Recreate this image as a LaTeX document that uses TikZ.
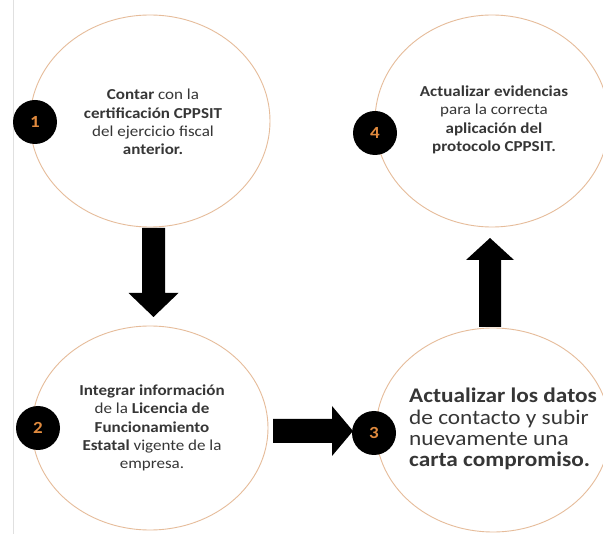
\documentclass[tikz,border=0pt]{standalone}
\usepackage{fontspec}
\setmainfont{Carlito}[FakeStretch=1.12]
\usetikzlibrary{shapes.geometric}
\definecolor{ringcol}{HTML}{E6BC9A}
\definecolor{txtcol}{HTML}{363636}
\definecolor{numcol}{HTML}{E08A3E}
\tikzset{
  ring/.style={ellipse, draw=ringcol, line width=0.9pt, fill=white, inner sep=0pt},
  badge/.style={circle, fill=black, minimum size=44pt, inner sep=0pt,
    text=numcol, font=\fontsize{17}{17}\selectfont\bfseries},
  smalltxt/.style={text=txtcol, align=center, inner sep=0pt,
    font=\fontsize{15.2}{18.4}\selectfont},
  bigtxt/.style={text=txtcol, align=left, inner sep=0pt,
    font=\fontsize{20.8}{21.2}\selectfont},
  blockarrow/.style={fill=black}
}
\begin{document}
\begin{tikzpicture}[x=1pt,y=-1pt]
\useasboundingbox (0,0) rectangle (603,534);
\fill[white] (0,0) rectangle (603,534);
\coordinate (lt) at (13,0);
\coordinate (lb) at (13,534);
\draw[black!12, line width=0.8pt] (lt) -- (lb);

% rings
\node[ring, minimum width=240pt, minimum height=212pt] (c1) at (150,121) {};
\node[ring, minimum width=234pt, minimum height=212pt] (c4) at (492,121) {};
\node[ring, minimum width=236pt, minimum height=204pt] (c2) at (150,428) {};
\node[ring, minimum width=234pt, minimum height=204pt] (c3) at (493,430) {};

% texts
\node[smalltxt] (t1) at (153,122) {\textbf{Contar} con la\\\textbf{certificación CPPSIT}\\del ejercicio fiscal\\\textbf{anterior.}};
\node[smalltxt] (t4) at (494,120) {\textbf{Actualizar evidencias}\\para la correcta\\\textbf{aplicación del}\\\textbf{protocolo CPPSIT.}};
\node[smalltxt] (t2) at (152,428) {\textbf{Integrar información}\\de la \textbf{Licencia de}\\\textbf{Funcionamiento}\\\textbf{Estatal} vigente de la\\empresa.};
\node[bigtxt, anchor=west] (t3) at (409,429) {\textbf{Actualizar los datos}\\de contacto y subir\\nuevamente una\\\textbf{carta compromiso.}};

% arrows
\coordinate (d1) at (153.5,228);
\coordinate (d2) at (153.5,317);
\fill[blockarrow] (d1) ++(-11.5,0) -- ++(23,0) -- ++(0,65) -- ++(13.5,0) -- (d2) -- ++(-25,-24) -- ++(13.5,0) -- cycle;
\coordinate (r1) at (273,431);
\coordinate (r2) at (353,431);
\fill[blockarrow] (r1) ++(0,-12) -- ++(59,0) -- ++(0,-13) -- (r2) -- ++(-21,25) -- ++(0,-13) -- ++(-59,0) -- cycle;
\coordinate (u1) at (490,327);
\coordinate (u2) at (490,238);
\fill[blockarrow] (u1) ++(-11,0) -- ++(0,-67) -- ++(-13,0) -- (u2) -- ++(24,22) -- ++(-13,0) -- ++(0,67) -- cycle;

% badges
\node[badge] (b1) at (35,122) {1};
\node[badge] (b4) at (375,133) {4};
\node[badge] (b2) at (38,428) {2};
\node[badge] (b3) at (374,433) {3};
\end{tikzpicture}
\end{document}
